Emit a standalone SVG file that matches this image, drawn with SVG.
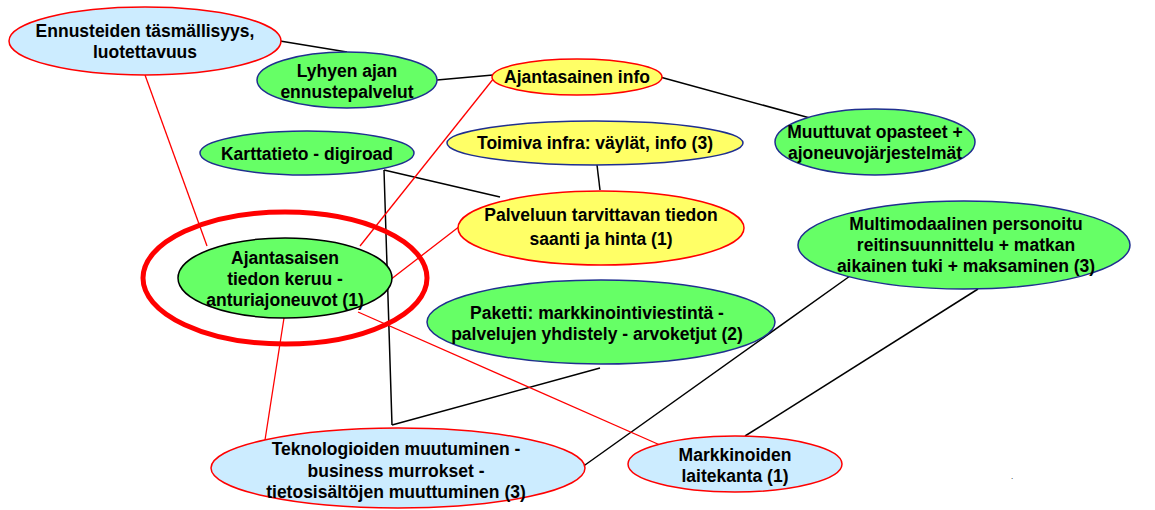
<svg xmlns="http://www.w3.org/2000/svg" width="1155" height="510" viewBox="0 0 1155 510">
  <style>
    .lbl { font-family: "Liberation Sans", Arial, sans-serif; font-weight: bold; font-size: 17.5px; fill: #000; text-anchor: middle; }
    .blue { fill: #CCECFF; stroke: #FF0000; stroke-width: 1.5; }
    .green { fill: #66FF66; stroke: #1F2F8F; stroke-width: 1.5; }
    .yellow-r { fill: #FFFF66; stroke: #FF0000; stroke-width: 1.5; }
    .yellow-b { fill: #FFFF66; stroke: #1F2F8F; stroke-width: 1.5; }
    .green-k { fill: #66FF66; stroke: #000; stroke-width: 1.5; }
    .ring { fill: none; stroke: #FF0000; stroke-width: 5; }
    .lk { stroke: #000; stroke-width: 1.5; fill: none; }
    .lr { stroke: #FF0000; stroke-width: 1.3; fill: none; }
  </style>
  <rect width="1155" height="510" fill="#FFFFFF"/>

  <!-- links between themes -->
  <g id="connectors">
    <line class="lk" x1="280" y1="41" x2="347" y2="52"/>
    <line class="lk" x1="437" y1="80" x2="493" y2="75"/>
    <line class="lk" x1="660" y1="77" x2="810" y2="118"/>
    <line class="lk" x1="597" y1="165" x2="600" y2="190"/>
    <line class="lk" x1="384" y1="170" x2="500" y2="197"/>
    <line class="lk" x1="384" y1="170" x2="392" y2="425"/>
    <line class="lk" x1="600" y1="368" x2="392" y2="425"/>
    <line class="lk" x1="850" y1="276" x2="578" y2="470"/>
    <line class="lk" x1="978" y1="289" x2="745" y2="436"/>
    <line class="lr" x1="145" y1="75" x2="207" y2="246"/>
    <line class="lr" x1="494" y1="78" x2="360" y2="246"/>
    <line class="lr" x1="460" y1="226" x2="390" y2="280"/>
    <line class="lr" x1="284" y1="318" x2="265" y2="440"/>
    <line class="lr" x1="358" y1="312" x2="660" y2="445"/>
  </g>

  <g id="ennusteiden">
    <ellipse class="blue" cx="145" cy="41" rx="136" ry="34"/>
    <text class="lbl" x="145" y="37">Ennusteiden täsmällisyys,</text>
    <text class="lbl" x="145" y="58">luotettavuus</text>
  </g>

  <g id="lyhyen">
    <ellipse class="green" cx="347" cy="80" rx="90" ry="28"/>
    <text class="lbl" x="347" y="77">Lyhyen ajan</text>
    <text class="lbl" x="347" y="98">ennustepalvelut</text>
  </g>

  <g id="ajantasainen-info">
    <ellipse class="yellow-r" cx="577" cy="77" rx="85" ry="18"/>
    <text class="lbl" x="577" y="83">Ajantasainen info</text>
  </g>

  <g id="karttatieto">
    <ellipse class="green" cx="307" cy="153" rx="107" ry="22"/>
    <text class="lbl" x="307" y="160">Karttatieto - digiroad</text>
  </g>

  <g id="toimiva-infra">
    <ellipse class="yellow-b" cx="595" cy="143" rx="148" ry="22"/>
    <text class="lbl" x="595" y="149">Toimiva infra: väylät, info (3)</text>
  </g>

  <g id="muuttuvat">
    <ellipse class="green" cx="875" cy="142" rx="100" ry="33"/>
    <text class="lbl" x="875" y="138">Muuttuvat opasteet +</text>
    <text class="lbl" x="875" y="159">ajoneuvojärjestelmät</text>
  </g>

  <g id="palveluun">
    <ellipse class="yellow-r" cx="601" cy="228" rx="143" ry="37"/>
    <text class="lbl" x="601" y="221">Palveluun tarvittavan tiedon</text>
    <text class="lbl" x="601" y="245">saanti ja hinta (1)</text>
  </g>

  <g id="keruu">
    <ellipse class="ring" cx="285" cy="278" rx="142" ry="66"/>
    <ellipse class="green-k" cx="285" cy="278" rx="107" ry="40"/>
    <text class="lbl" x="285" y="264">Ajantasaisen</text>
    <text class="lbl" x="285" y="285">tiedon keruu -</text>
    <text class="lbl" x="285" y="306">anturiajoneuvot (1)</text>
  </g>

  <g id="paketti">
    <ellipse class="green" cx="601" cy="322" rx="174" ry="42"/>
    <text class="lbl" x="597" y="319">Paketti: markkinointiviestintä -</text>
    <text class="lbl" x="597" y="340">palvelujen yhdistely - arvoketjut (2)</text>
  </g>

  <g id="multimodaalinen">
    <ellipse class="green" cx="964" cy="245" rx="166" ry="44"/>
    <text class="lbl" x="966" y="230">Multimodaalinen personoitu</text>
    <text class="lbl" x="966" y="251">reitinsuunnittelu + matkan</text>
    <text class="lbl" x="966" y="272">aikainen tuki + maksaminen (3)</text>
  </g>

  <g id="teknologioiden">
    <ellipse class="blue" cx="398" cy="468" rx="187" ry="40"/>
    <text class="lbl" x="396" y="455">Teknologioiden muutuminen -</text>
    <text class="lbl" x="396" y="477">business murrokset -</text>
    <text class="lbl" x="396" y="498">tietosisältöjen muuttuminen (3)</text>
  </g>

  <g id="markkinoiden">
    <ellipse class="blue" cx="735" cy="464" rx="107" ry="28"/>
    <text class="lbl" x="735" y="461">Markkinoiden</text>
    <text class="lbl" x="735" y="482">laitekanta (1)</text>
  </g>

  <text x="1012" y="479" style="font-family: 'Liberation Sans', Arial, sans-serif; font-size: 8px; fill: #000;" text-anchor="middle">.</text>
</svg>
